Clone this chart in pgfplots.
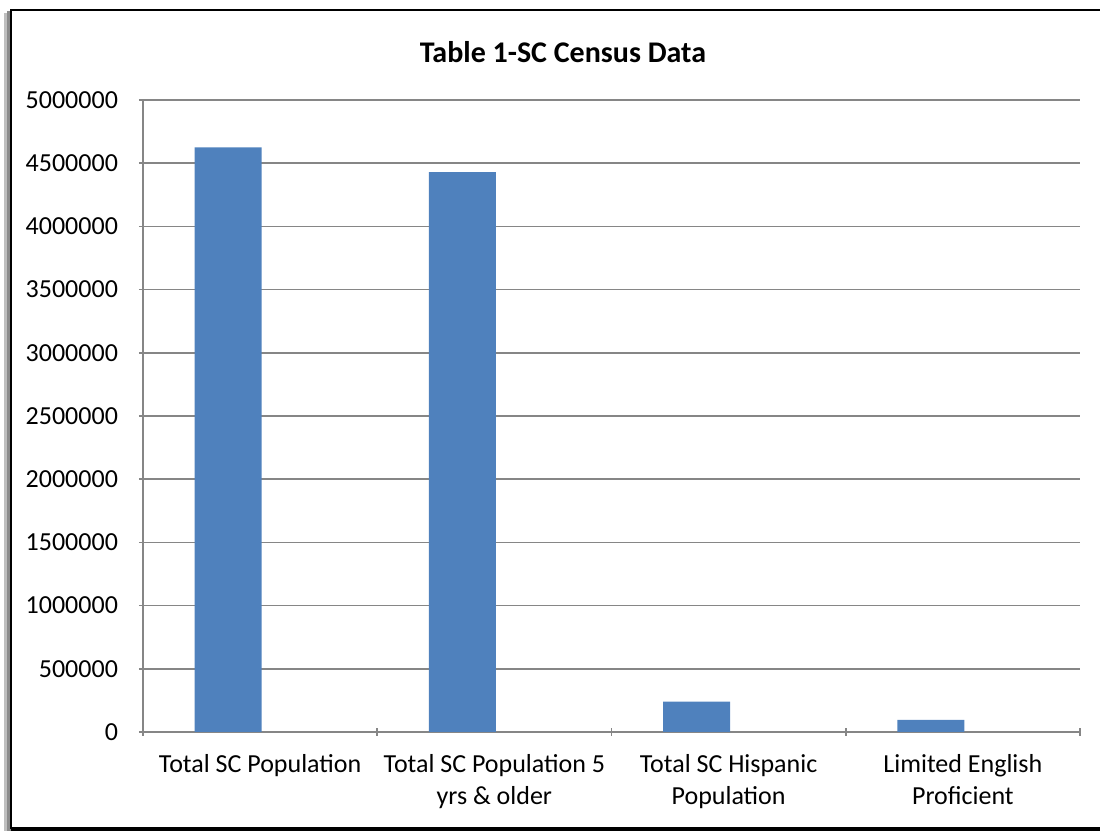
\documentclass[border=0pt]{standalone}
\usepackage{pgfplots}
\pgfplotsset{compat=1.18}
\usepackage{fontspec}
\setmainfont{Carlito}

\definecolor{barblue}{HTML}{4F81BD}
\definecolor{axgray}{HTML}{868686}

\begin{document}
\begin{tikzpicture}[x=0.5pt,y=0.5pt]
\useasboundingbox (0,0) rectangle (1100,831);
% frame with shadow on the left
\fill[black!25] (4,0) rectangle (11,818);
\fill[black!45] (7,0) rectangle (11,820);
\draw[black, line width=1.2pt] (11,2) -- (11,821) -- (1104,821);
\draw[black, line width=2pt] (11,2) -- (1104,2);

\node[font=\bfseries\fontsize{15}{18}\selectfont] at (563,779) {Table 1-SC Census Data};
\coordinate (O) at (143,99);

\begin{axis}[
    at={(O)}, anchor=south west,
    scale only axis,
    width=468.5pt, height=316pt,
    ybar,
    bar width=33.5pt,
    bar shift=-16pt,
    xmin=-0.5, xmax=3.5,
    ymin=0, ymax=5000000,
    ytick={0,500000,...,5000000},
    scaled y ticks=false,
    /pgf/number format/.cd, fixed, 1000 sep={}, assume math mode=true,
    /pgfplots/.cd,
    xtick={0,1,2,3},
    xticklabels={Total SC Population, Total SC Population 5\\yrs \& older, Total SC Hispanic\\Population, Limited English\\Proficient},
    xticklabel style={align=center, font=\fontsize{13}{16}\selectfont, anchor=north, yshift=-5.5pt},
    yticklabel style={font=\fontsize{13}{15}\selectfont, xshift=-7pt},
    minor xtick={-0.5,0.5,1.5,2.5,3.5},
    major x tick style={draw=none},
    minor tick length=4pt,
    major tick length=4pt,
    tick align=outside,
    tick style={axgray, line width=0.8pt},
    axis x line=bottom, axis y line=left,
    axis line style={-, axgray, line width=0.8pt},
    ymajorgrids,
    grid style={axgray, line width=0.8pt},
    enlargelimits=false,
    clip=false,
]
\addplot[fill=barblue, draw=none] coordinates {
(0,4625364) (1,4429000) (2,240000) (3,96000)
};
\end{axis}
\end{tikzpicture}
\end{document}
